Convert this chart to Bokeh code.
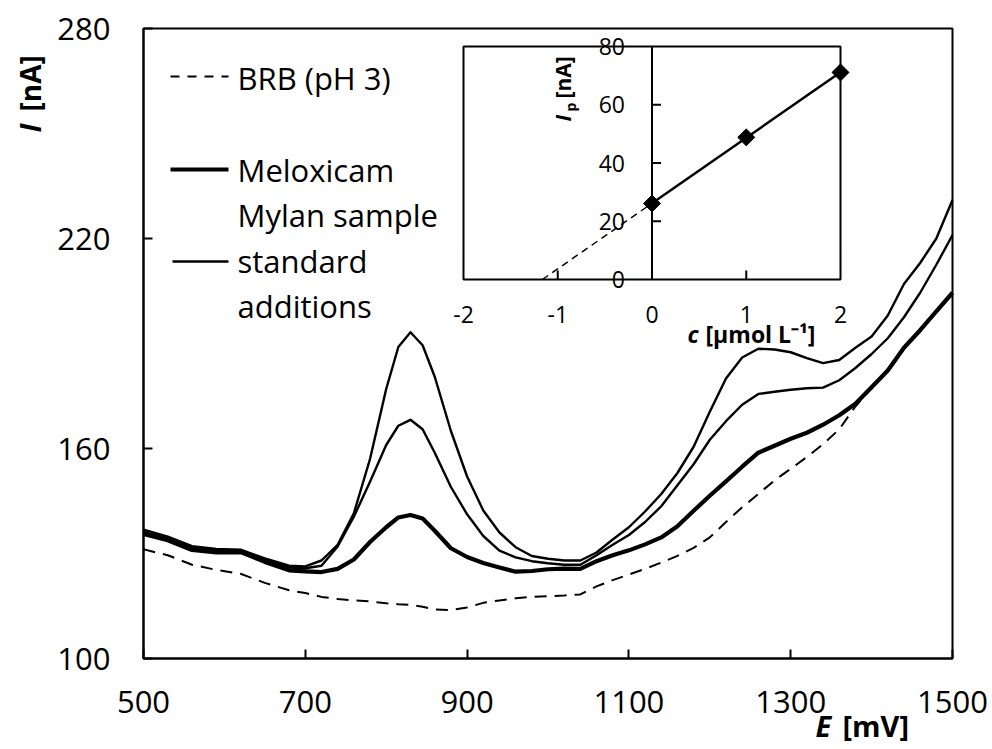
import numpy as np
from bokeh.plotting import figure
from bokeh.models import Range1d, FixedTicker, Label, Arrow, LinearAxis
from bokeh.core.properties import value
from bokeh.embed import file_html
from bokeh.resources import INLINE

# ---------------- data ----------------
E_mV = [500, 530, 560, 590, 620, 650, 680, 700, 720, 740,
        760, 780, 800, 815, 830, 845, 860, 880, 900, 920,
        940, 960, 980, 1000, 1020, 1040, 1060, 1080, 1100, 1120,
        1140, 1160, 1180, 1200, 1220, 1240, 1260, 1280, 1300, 1320,
        1340, 1360, 1380, 1400, 1420, 1440, 1460, 1480, 1500]

I_brb = [131.2, 129.5, 126.8, 125.3, 124.2, 121.6, 119.5, 118.7, 117.6, 117.0,
         116.6, 116.3, 115.8, 115.5, 115.3, 114.8, 114.0, 113.8, 114.6, 115.9,
         116.6, 117.2, 117.6, 117.8, 118.0, 118.3, 120.6, 122.4, 124.0, 125.6,
         127.4, 129.3, 131.6, 134.6, 139.0, 143.2, 147.0, 150.9, 154.2, 157.6,
         161.2, 165.5, 172.0, 177.3, 182.2, 188.6, 193.6, 199.0, 204.3]

I_sample = [135.6, 133.8, 131.0, 130.3, 130.4, 127.6, 125.2, 124.9, 124.7, 125.6,
            128.3, 133.3, 137.5, 140.3, 141.0, 140.0, 136.5, 131.5, 129.0, 127.3,
            126.0, 124.8, 125.0, 125.5, 125.7, 125.6, 127.8, 129.5, 130.9, 132.6,
            134.6, 137.8, 142.2, 146.5, 150.6, 154.8, 158.8, 160.8, 162.8, 164.5,
            166.8, 169.5, 172.8, 177.5, 182.3, 188.8, 193.8, 199.2, 204.5]

I_add1 = [136.2, 134.3, 131.6, 130.8, 130.7, 128.1, 126.0, 125.8, 126.5, 132.0,
          140.5, 150.5, 161.0, 166.5, 168.2, 165.5, 158.8, 149.0, 141.2, 135.0,
          130.8, 128.9, 127.8, 127.2, 126.8, 126.8, 129.5, 132.5, 135.3, 139.0,
          143.5, 149.5, 155.5, 162.5, 167.8, 172.5, 175.6, 176.2, 176.8, 177.2,
          177.4, 179.5, 183.0, 187.0, 191.5, 197.5, 204.5, 212.5, 221.0]

I_add2 = [136.8, 134.8, 132.1, 131.3, 131.1, 128.6, 126.5, 126.3, 128.0, 132.5,
          141.5, 157.0, 177.0, 189.0, 193.2, 189.5, 180.5, 165.0, 152.0, 142.3,
          136.0, 131.8, 129.3, 128.5, 128.0, 128.0, 130.3, 134.0, 137.5, 142.0,
          147.0, 153.0, 160.5, 170.5, 180.0, 186.0, 188.5, 188.3, 187.5, 185.8,
          184.4, 185.3, 188.8, 192.0, 198.0, 207.0, 213.0, 220.0, 231.0]

x_ticks = [500, 700, 900, 1100, 1300, 1500]
y_ticks = [100, 160, 220, 280]

# inset: standard-addition calibration
c_umol = [0, 1, 2]
Ip_nA = [26.1, 48.8, 71.1]
c_ticks = [-2, -1, 0, 1, 2]
ip_ticks = [0, 20, 40, 60, 80]

legend_labels = ["BRB (pH 3)", "Meloxicam", "Mylan sample", "standard", "additions"]

# ---------------- layout constants (canvas pixels) ----------------
FONT = "Open Sans"
W, H = 990, 746
FR_L, FR_R, FR_T, FR_B = 143, 952, 28, 658          # main plot box
IN_L, IN_R, IN_T, IN_B = 463, 840, 46, 279          # inset box

kx = (FR_R - FR_L) / (max(x_ticks) - min(x_ticks))
ky = (FR_B - FR_T) / (max(y_ticks) - min(y_ticks))
x_range = Range1d(min(x_ticks) - FR_L / kx, max(x_ticks) + (W - FR_R) / kx)
y_range = Range1d(min(y_ticks) - (H - FR_B) / ky, max(y_ticks) + FR_T / ky)

p = figure(width=W, height=H, title=None, x_range=x_range, y_range=y_range,
           x_axis_location=None, y_axis_location=None, min_border=0,
           output_backend="svg", toolbar_location=None)
p.background_fill_color = "white"
p.border_fill_color = "white"
p.outline_line_color = None
p.grid.visible = False

xaxis = LinearAxis(fixed_location=min(y_ticks), bounds=(min(x_ticks), max(x_ticks)),
                   ticker=FixedTicker(ticks=x_ticks))
yaxis = LinearAxis(fixed_location=min(x_ticks), bounds=(min(y_ticks), max(y_ticks)),
                   ticker=FixedTicker(ticks=y_ticks))
for ax in (xaxis, yaxis):
    ax.axis_line_color = "black"
    ax.axis_line_width = 2
    ax.major_tick_line_color = "black"
    ax.major_tick_line_width = 2
    ax.major_tick_in = 9
    ax.major_tick_out = 0
    ax.minor_tick_line_color = None
    ax.major_label_text_font = FONT
    ax.major_label_text_font_size = "31px"
    ax.major_label_text_color = "black"
xaxis.major_label_standoff = 32
yaxis.major_label_standoff = 33
p.add_layout(xaxis, "below")
p.add_layout(yaxis, "left")

# ---------------- main curves ----------------
p.line(E_mV, I_brb, line_color="black", line_width=2, line_dash="12 8")
p.line(E_mV, I_add2, line_color="black", line_width=2.4, line_join="round")
p.line(E_mV, I_add1, line_color="black", line_width=2.4, line_join="round")
p.line(E_mV, I_sample, line_color="black", line_width=4.2, line_join="round")
p.quad(left=min(x_ticks), right=max(x_ticks), bottom=min(y_ticks), top=max(y_ticks),
       fill_color=None, line_color="black", line_width=2)

# ---------------- inset via extra ranges ----------------
c_px = (IN_R - IN_L) / (max(c_ticks) - min(c_ticks))
ip_px = (IN_B - IN_T) / (max(ip_ticks) - min(ip_ticks))
p.extra_x_ranges = {"c": Range1d(min(c_ticks) - IN_L / c_px,
                                 max(c_ticks) + (W - IN_R) / c_px)}
p.extra_y_ranges = {"ip": Range1d(min(ip_ticks) - (H - IN_B) / ip_px,
                                  max(ip_ticks) + IN_T / ip_px)}
R = dict(x_range_name="c", y_range_name="ip")

p.quad(left=min(c_ticks), right=max(c_ticks), bottom=min(ip_ticks), top=max(ip_ticks),
       fill_color="white", line_color="black", line_width=2, **R)
p.segment(x0=[0], y0=[min(ip_ticks)], x1=[0], y1=[max(ip_ticks)],
          line_color="black", line_width=2, **R)
inner_y = [t for t in ip_ticks if t not in (min(ip_ticks), max(ip_ticks))]
p.ray(x=[0] * len(inner_y), y=inner_y, length=9, length_units="screen", angle=0,
      line_color="black", line_width=2, **R)
inner_x = [t for t in c_ticks if t not in (min(c_ticks), max(c_ticks), 0)]
p.ray(x=inner_x, y=[min(ip_ticks)] * len(inner_x), length=9, length_units="screen",
      angle=np.pi / 2, line_color="black", line_width=2, **R)

m, b = np.polyfit(c_umol, Ip_nA, 1)
x0 = -b / m
p.line([x0, 0], [0, b], line_color="black", line_width=1.5, line_dash="7 5", **R)
p.line([0, max(c_umol)], [b, m * max(c_umol) + b], line_color="black", line_width=2.5, **R)
p.scatter(c_umol, Ip_nA, marker="square", angle=np.pi / 4, size=12,
          fill_color="black", line_color="black", **R)

p.text(x=c_ticks, y=[min(ip_ticks)] * len(c_ticks), text=[str(t) for t in c_ticks],
       text_font=value(FONT), text_font_size="23px", text_align="center",
       text_baseline="middle", y_offset=35, text_color="black", **R)
p.text(x=[0] * len(ip_ticks), y=ip_ticks, text=[str(t) for t in ip_ticks],
       text_font=value(FONT), text_font_size="23px", text_align="right",
       text_baseline="middle", x_offset=-27, text_color="black", **R)


# ---------------- annotations (canvas px; frame == canvas) ----------------
def lab(text, px, py, size, style="normal", align="left", baseline="middle", angle=0.0):
    p.add_layout(Label(x=px, y=H - py, x_units="screen", y_units="screen",
                       text=text, text_font=FONT, text_font_size=size,
                       text_font_style=style, text_align=align,
                       text_baseline=baseline, angle=angle, text_color="black"))


def swatch(x1, x2, py, width, dash="solid"):
    p.add_layout(Arrow(x_start=x1, y_start=H - py, x_end=x2, y_end=H - py,
                       start_units="screen", end_units="screen", start=None, end=None,
                       line_color="black", line_width=width, line_dash=dash))


# axis titles (y = visual centre line)
lab("E", 815, 725, "29px", "bold italic")
lab("[mV]", 842, 725, "29px", "bold")
lab("I", 29, 132, "28px", "bold italic", angle=np.pi / 2)
lab("[nA]", 29, 111, "28px", "bold", angle=np.pi / 2)

# inset titles
lab("c", 687, 333, "23px", "bold italic")
lab("[\u03bcmol L\u207b\u00b9]", 705, 333, "23px", "bold")
lab("I", 562, 121, "21px", "bold italic", angle=np.pi / 2)
lab("p", 570, 111, "14px", "bold", angle=np.pi / 2)
lab("[nA]", 562, 98, "21px", "bold", angle=np.pi / 2)

# legend
swatch(170, 228, 76, 2, "9 8")
swatch(170, 228, 169, 4.2)
swatch(172, 228, 261, 2.4)
for txt, yc in zip(legend_labels, [77, 169, 214, 260, 305]):
    lab(txt, 237, yc, "31px")

open("out.html", "w").write(file_html(p, INLINE))
